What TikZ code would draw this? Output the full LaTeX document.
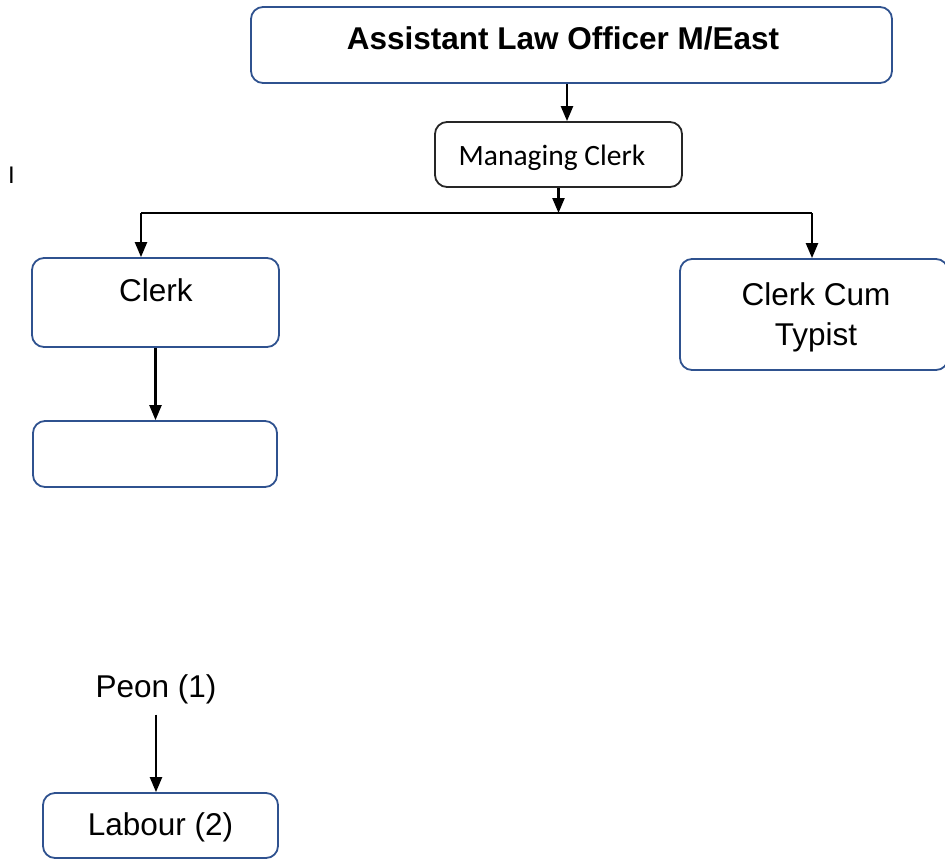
\documentclass[tikz,border=0pt]{standalone}
\usepackage{fontspec}
\setmainfont{Liberation Sans}
\newfontfamily\calibri{Carlito}
\usetikzlibrary{arrows.meta,positioning}
\definecolor{boxline}{HTML}{2F528F}
\tikzset{
	post/.style={draw=boxline, line width=1.8pt, rounded corners=12pt, inner sep=0pt},
	link/.style={->, line width=2.3pt},
	caption/.style={font=\fontsize{31.5}{40}\selectfont, inner sep=0pt}
}

\begin{document}
\begin{tikzpicture}[x=1pt,y=-1pt,>={Triangle[length=15pt,width=12pt]}]
	\useasboundingbox (0,0) rectangle (945,860);
	% boxes
	\node (alo) [post, minimum width=641pt, minimum height=76pt] at (571.5,45) {};
	\node (mc) [post, draw=black!85, minimum width=247pt, minimum height=65pt] at (558.5,154.5) {};
	\node (clerk) [post, minimum width=247pt, minimum height=89pt] at (155.5,302.5) {};
	\node (cct) [post, minimum width=268pt, minimum height=111pt] at (814,314.5) {};
	\node (blank) [post, minimum width=244pt, minimum height=66pt] at (155,454) {};
	\node (labour) [post, minimum width=235pt, minimum height=65pt] at (160.5,825.5) {};
	% texts
	\node (alotext) [caption, anchor=base] at (563,49) {\bfseries Assistant Law Officer M/East};
	\node (mctext) [caption, anchor=base, font=\calibri\fontsize{29.5}{36}\selectfont] at (552,165) {Managing Clerk};
	\node (clerktext) [caption, anchor=base] at (156,301) {Clerk};
	\node (ccttext) [caption, align=center] at (816,317) {Clerk Cum\\Typist};
	\node (peon) [caption, anchor=base] at (156,697) {Peon (1)};
	\node (labourtext) [caption, anchor=base] at (160.5,835) {Labour (2)};
	\node (mark) [inner sep=0pt, font=\fontsize{24}{24}\selectfont] at (11.5,175) {I};
	% connectors
	\coordinate (busL) at (141,213);
	\coordinate (busR) at (812,213);
	\draw [link] ([xshift=-4.5pt]alo.south) -- ([xshift=8.5pt]mc.north);
	\draw [link] (mc.south) -- (mc.south |- busL);
	\draw [line width=2.3pt] (busL) -- (busR);
	\draw [link] (busL) -- (busL |- clerk.north);
	\draw [link] (busR) -- (busR |- cct.north);
	\draw [link] (clerk.south) -- (blank.north -| clerk.south);
	\draw [link] ([yshift=-11pt]peon.south) -- (labour.north -| peon.south);
\end{tikzpicture}
\end{document}
